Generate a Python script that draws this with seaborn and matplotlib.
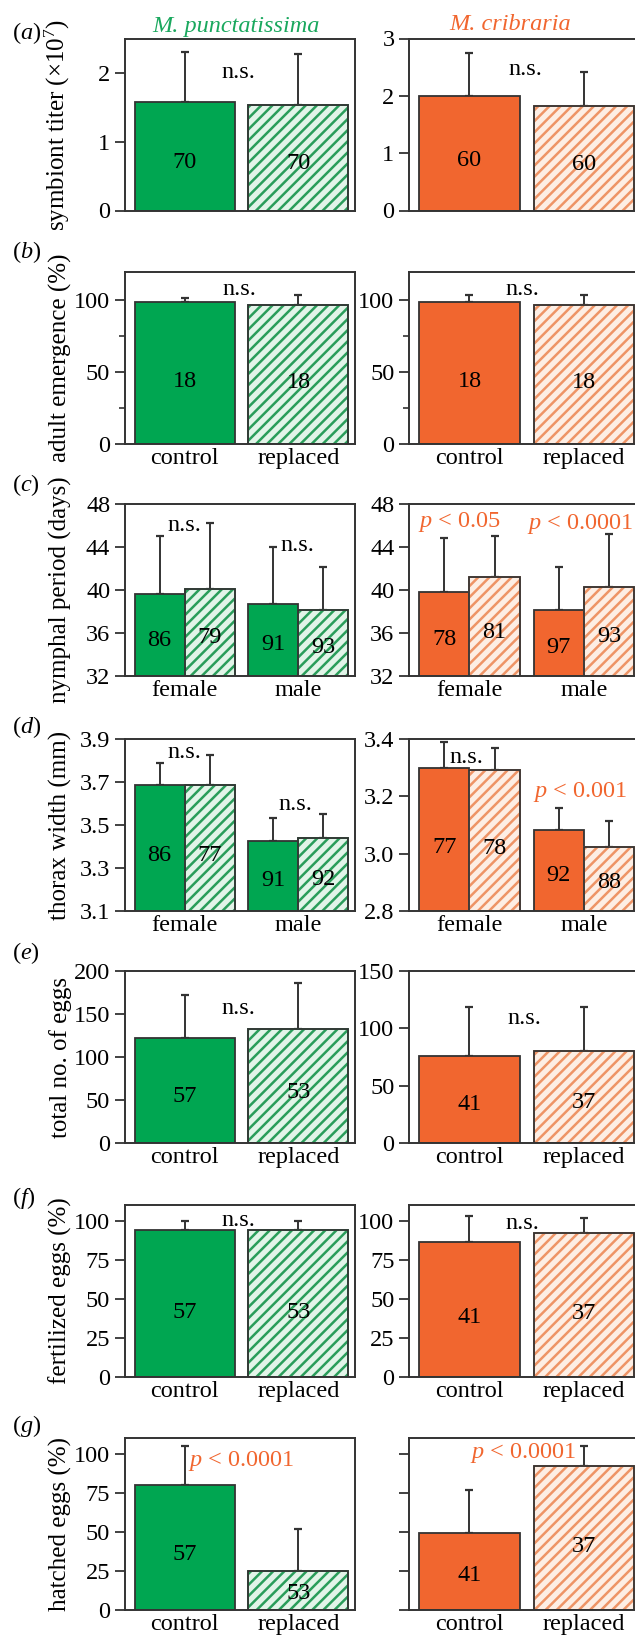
import numpy as np
import pandas as pd
import matplotlib
matplotlib.use('Agg')
import matplotlib.pyplot as plt
from matplotlib.patches import Rectangle
from matplotlib.ticker import FormatStrFormatter
import seaborn as sns

treatments = ['control', 'replaced']
sexes = ['female', 'male']

# (a) symbiont titer (x10^7)
titer_mp = [1.58, 1.54]; titer_mp_sd = [0.73, 0.74]; titer_mp_n = [70, 70]
titer_mc = [2.0, 1.82]; titer_mc_sd = [0.75, 0.60]; titer_mc_n = [60, 60]
# (b) adult emergence (%)
emerg_mp = [98.8, 96.5]; emerg_mp_sd = [3.1, 7.2]; emerg_mp_n = [18, 18]
emerg_mc = [98.8, 96.5]; emerg_mc_sd = [4.9, 7.2]; emerg_mc_n = [18, 18]
# (c) nymphal period (days): female control, female replaced, male control, male replaced
nymph_mp = [39.6, 40.1, 38.7, 38.1]; nymph_mp_sd = [5.4, 6.1, 5.3, 4.0]; nymph_mp_n = [86, 79, 91, 93]
nymph_mc = [39.8, 41.2, 38.1, 40.3]; nymph_mc_sd = [5.0, 3.8, 4.0, 4.95]; nymph_mc_n = [78, 81, 97, 93]
# (d) thorax width (mm)
thorax_mp = [3.686, 3.686, 3.426, 3.438]; thorax_mp_sd = [0.104, 0.138, 0.105, 0.115]; thorax_mp_n = [86, 77, 91, 92]
thorax_mc = [3.30, 3.293, 3.081, 3.025]; thorax_mc_sd = [0.089, 0.076, 0.077, 0.09]; thorax_mc_n = [77, 78, 92, 88]
# (e) total no. of eggs
eggs_mp = [122, 133]; eggs_mp_sd = [50, 53]; eggs_mp_n = [57, 53]
eggs_mc = [75.6, 80]; eggs_mc_sd = [43.1, 38.7]; eggs_mc_n = [41, 37]
# (f) fertilized eggs (%)
fert_mp = [94.1, 94.0]; fert_mp_sd = [5.9, 6.0]; fert_mp_n = [57, 53]
fert_mc = [86.4, 92.0]; fert_mc_sd = [16.7, 9.7]; fert_mc_n = [41, 37]
# (g) hatched eggs (%)
hatch_mp = [80, 24.7]; hatch_mp_sd = [24.9, 27.3]; hatch_mp_n = [57, 53]
hatch_mc = [49.5, 92.2]; hatch_mc_sd = [27.4, 12.7]; hatch_mc_n = [41, 37]

ylabels = ['symbiont titer (×10$^7$)', 'adult emergence (%)', 'nymphal period (days)',
           'thorax width (mm)', 'total no. of eggs', 'fertilized eggs (%)', 'hatched eggs (%)']
panel_letters = ['a', 'b', 'c', 'd', 'e', 'f', 'g']

GREEN = '#00a651'
GREEN_LIGHT = '#e2f4e8'
GREEN_HATCH = '#2a9d5a'
ORANGE = '#f1662f'
ORANGE_LIGHT = '#fdeee4'
ORANGE_HATCH = '#ee9466'
DARK = '#333333'
FS = 17.5

sns.set_style('ticks')
plt.rcParams['font.family'] = ['Liberation Serif', 'DejaVu Serif']
plt.rcParams['mathtext.fontset'] = 'custom'
plt.rcParams['mathtext.rm'] = 'Liberation Serif'
plt.rcParams['mathtext.it'] = 'Liberation Serif:italic'
plt.rcParams['hatch.linewidth'] = 1.8
plt.rcParams['text.color'] = 'black'
plt.rcParams['axes.labelcolor'] = 'black'
plt.rcParams['xtick.labelcolor'] = 'black'
plt.rcParams['ytick.labelcolor'] = 'black'

W, H = 635, 1636
fig = plt.figure(figsize=(W / 100, H / 100), dpi=100)


def add_ax(x0, top, w, h=172):
    return fig.add_axes([x0 / W, 1 - (top + h) / H, w / W, h / H])


def draw(ax, means, sds, ns, species, grouped, ylim, yticks, fmt=None,
         ticklabels=True, xlabels=True, minor=None):
    solid, light, hcol = ((GREEN, GREEN_LIGHT, GREEN_HATCH) if species == 'mp'
                          else (ORANGE, ORANGE_LIGHT, ORANGE_HATCH))
    if grouped:
        df = pd.DataFrame({'grp': np.repeat(sexes, 2), 'treatment': treatments * 2, 'value': means})
        sns.barplot(data=df, x='grp', y='value', hue='treatment', hue_order=treatments,
                    palette=[solid, light], saturation=1, width=0.88, gap=0, errorbar=None,
                    legend=False, edgecolor=DARK, linewidth=1.3, ax=ax)
    else:
        df = pd.DataFrame({'treatment': treatments, 'value': means})
        sns.barplot(data=df, x='treatment', y='value', hue='treatment', hue_order=treatments,
                    palette=[solid, light], saturation=1, width=0.88, errorbar=None,
                    legend=False, edgecolor=DARK, linewidth=1.3, ax=ax)
    bars = sorted(ax.patches, key=lambda p: p.get_x())
    ylo = max(0, ylim[0])
    xs = []
    for i, p in enumerate(bars):
        if i % 2 == 1:
            p.set_facecolor(light)
            p.set_edgecolor(hcol)
            p.set_hatch('///')
            ax.add_patch(Rectangle(p.get_xy(), p.get_width(), p.get_height(), fill=False,
                                   edgecolor=DARK, linewidth=1.3, zorder=p.get_zorder() + 0.1))
        xc = p.get_x() + p.get_width() / 2
        xs.append(xc)
        ax.text(xc, ylo + 0.44 * (means[i] - ylo), str(ns[i]), ha='center', va='center',
                fontsize=FS, color='black', zorder=5)
    ax.errorbar(xs, means, yerr=[np.zeros(len(means)), sds], fmt='none', ecolor=DARK,
                elinewidth=1.4, capsize=3, capthick=1.6, zorder=0.5)
    ax.set_xlim(-0.525, 1.5)
    ax.set_ylim(*ylim)
    ax.set_yticks(yticks)
    if fmt:
        ax.yaxis.set_major_formatter(FormatStrFormatter(fmt))
    if minor is not None:
        ax.set_yticks(minor, minor=True)
        ax.tick_params(axis='y', which='minor', length=4, width=1.2, color=DARK)
    ax.set_xlabel('')
    ax.set_ylabel('')
    ax.tick_params(axis='y', which='major', direction='out', length=7.2, width=1.3,
                   pad=3.5, labelsize=FS, color=DARK, labelleft=ticklabels)
    ax.tick_params(axis='x', length=0, pad=3, labelsize=FS, labelbottom=xlabels)
    for s in ax.spines.values():
        s.set_visible(True)
        s.set_color(DARK)
        s.set_linewidth(1.4)


def note(ax, x, y, txt, color='black'):
    ax.text(x, y, txt, ha='center', va='center', fontsize=FS, color=color, zorder=6)


tops = [38.5, 271.7, 504, 739, 971, 1205, 1438]
label_y = [33, 252, 485, 727, 953, 1198, 1426]
LX, LW = 125, 230.3
RX, RW = 409.3, 231.9

axes = []
for r in range(7):
    axes.append((add_ax(LX, tops[r], LW), add_ax(RX, tops[r], RW)))

# (a)
l, r = axes[0]
draw(l, titer_mp, titer_mp_sd, titer_mp_n, 'mp', False, (0, 2.5), [0, 1, 2], xlabels=False)
draw(r, titer_mc, titer_mc_sd, titer_mc_n, 'mc', False, (0, 3), [0, 1, 2, 3], xlabels=False)
note(l, 0.47, 2.0, 'n.s.'); note(r, 0.49, 2.46, 'n.s.')
# (b)
l, r = axes[1]
draw(l, emerg_mp, emerg_mp_sd, emerg_mp_n, 'mp', False, (0, 120), [0, 50, 100], minor=[25, 75])
draw(r, emerg_mc, emerg_mc_sd, emerg_mc_n, 'mc', False, (0, 120), [0, 50, 100], minor=[25, 75])
note(l, 0.48, 107.7, 'n.s.'); note(r, 0.46, 107.7, 'n.s.')
# (c)
l, r = axes[2]
draw(l, nymph_mp, nymph_mp_sd, nymph_mp_n, 'mp', True, (32, 48), [32, 36, 40, 44, 48])
draw(r, nymph_mc, nymph_mc_sd, nymph_mc_n, 'mc', True, (32, 48), [32, 36, 40, 44, 48])
note(l, 0.0, 46.0, 'n.s.'); note(l, 0.99, 44.15, 'n.s.')
note(r, -0.085, 46.3, '$p$ < 0.05', ORANGE); note(r, 0.965, 46.15, '$p$ < 0.0001', ORANGE)
# (d)
l, r = axes[3]
draw(l, thorax_mp, thorax_mp_sd, thorax_mp_n, 'mp', True, (3.1, 3.9), [3.1, 3.3, 3.5, 3.7, 3.9], fmt='%.1f')
draw(r, thorax_mc, thorax_mc_sd, thorax_mc_n, 'mc', True, (2.8, 3.4), [2.8, 3.0, 3.2, 3.4], fmt='%.1f')
note(l, 0.0, 3.836, 'n.s.'); note(l, 0.97, 3.596, 'n.s.')
note(r, -0.03, 3.336, 'n.s.'); note(r, 0.965, 3.214, '$p$ < 0.001', ORANGE)
# (e)
l, r = axes[4]
draw(l, eggs_mp, eggs_mp_sd, eggs_mp_n, 'mp', False, (0, 200), [0, 50, 100, 150, 200])
draw(r, eggs_mc, eggs_mc_sd, eggs_mc_n, 'mc', False, (0, 150), [0, 50, 100, 150])
note(l, 0.47, 156, 'n.s.'); note(r, 0.48, 108.5, 'n.s.')
# (f)
l, r = axes[5]
draw(l, fert_mp, fert_mp_sd, fert_mp_n, 'mp', False, (0, 110), [0, 25, 50, 75, 100])
draw(r, fert_mc, fert_mc_sd, fert_mc_n, 'mc', False, (0, 110), [0, 25, 50, 75, 100])
note(l, 0.47, 100.4, 'n.s.'); note(r, 0.46, 98, 'n.s.')
# (g)
l, r = axes[6]
draw(l, hatch_mp, hatch_mp_sd, hatch_mp_n, 'mp', False, (0, 110), [0, 25, 50, 75, 100])
draw(r, hatch_mc, hatch_mc_sd, hatch_mc_n, 'mc', False, (0, 110), [0, 25, 50, 75, 100], ticklabels=False)
note(l, 0.50, 95, '$p$ < 0.0001', ORANGE); note(r, 0.47, 100.6, '$p$ < 0.0001', ORANGE)

for i, (l, r) in enumerate(axes):
    l.set_ylabel(ylabels[i], fontsize=18)
    l.yaxis.set_label_coords(-0.228, 0.5)
    fig.text(12 / W, 1 - label_y[i] / H, '($' + panel_letters[i] + '$)', fontsize=FS,
             ha='left', va='center')

fig.text(236 / W, 1 - 32 / H, 'M. punctatissima', fontsize=FS, style='italic',
         color='#1aa85e', ha='center', va='baseline')
fig.text(510 / W, 1 - 29.5 / H, 'M. cribraria', fontsize=FS, style='italic',
         color=ORANGE, ha='center', va='baseline')

fig.savefig('out.png', dpi=100)
